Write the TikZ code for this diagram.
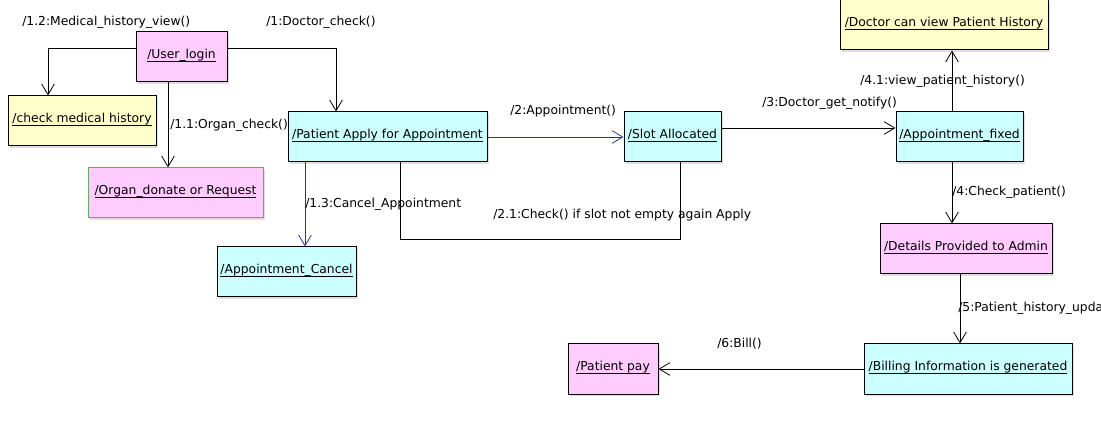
\documentclass[tikz,border=0pt]{standalone}
\usepackage{fontspec}
\setmainfont{DejaVu Sans}
\usetikzlibrary{arrows.meta,shadows}
\definecolor{objpink}{HTML}{FFCCFF}
\definecolor{objyellow}{HTML}{FFFFCC}
\definecolor{objcyan}{HTML}{CCFFFF}
\definecolor{msgnavy}{HTML}{333388}
\definecolor{objgreen}{HTML}{66AA66}
\newcommand\objname[1]{\underline{\smash{#1}}}
\tikzset{
  obj/.style={draw, line width=0.75pt, inner sep=0pt, minimum height=37.5pt,
    text height=8.5pt, text depth=5.5pt,
    drop shadow={shadow xshift=1.5pt, shadow yshift=-1.5pt, fill=black!25, opacity=0.5}},
  msg/.style={line width=0.7pt, -{Straight Barb[length=8pt,width=9.5pt,line width=0.6pt]}},
  lbl/.style={anchor=west, inner sep=0pt}
}

\begin{document}
\begin{tikzpicture}[x=0.75pt, y=-0.75pt, font=\fontsize{9.25}{11}\selectfont]
			%%%%% START %%%%%
			\clip (0,0) rectangle (1101,442);
			\useasboundingbox (0,0) rectangle (1101,442);
			
			\node[obj, fill=objpink, minimum width=68.25pt] (ulogin) at (181.5,57) {\objname{/User\_login}};
			\node[obj, fill=objyellow, minimum width=111pt] (chkhist) at (82,121) {\objname{/check medical history}};
			\node[obj, fill=objpink, draw=objgreen, minimum width=131.25pt] (organ) at (175.5,193) {\objname{/Organ\_donate or Request}};
			\node[obj, fill=objcyan, minimum width=149.25pt] (papply) at (387.5,137) {\objname{/Patient Apply for Appointment}};
			\node[obj, fill=objcyan, minimum width=104.25pt] (cancel) at (286.5,272) {\objname{/Appointment\_Cancel}};
			\node[obj, fill=objcyan, minimum width=72.75pt] (slot) at (672.5,137) {\objname{/Slot Allocated}};
			\node[obj, fill=objyellow, minimum width=156pt] (docview) at (944,25) {\objname{/Doctor can view Patient History}};
			\node[obj, fill=objcyan, minimum width=95.25pt] (fixed) at (959.5,137) {\objname{/Appointment\_fixed}};
			\node[obj, fill=objpink, minimum width=129pt] (details) at (966,249) {\objname{/Details Provided to Admin}};
			\node[obj, fill=objcyan, minimum width=156pt] (billing) at (968,369) {\objname{/Billing Information is generated}};
			\node[obj, fill=objpink, minimum width=67.5pt] (ppay) at (613,369) {\objname{/Patient pay}};
			
			\draw[msg] (ulogin.west |- 0,48) -| (chkhist.north -| 48,0);
			\node[lbl] (l12) at (22,22) {/1.2:Medical\_history\_view()};
			
			\draw[msg] (ulogin.east |- 0,48) -| (336,0 |- papply.north);
			\node[lbl] (l1) at (266,22) {/1:Doctor\_check()};
			
			\draw[msg] (168,0 |- ulogin.south) -- (168,0 |- organ.north);
			\node[lbl] (l11) at (170,125) {/1.1:Organ\_check()};
			
			\draw[msg, msgnavy] (papply.east) -- (slot.west);
			\node[lbl] (l2) at (510,111) {/2:Appointment()};
			
			\draw[msg, msgnavy] (305,0 |- papply.south) -- (305,0 |- cancel.north);
			\node[lbl] (l13) at (305,204) {/1.3:Cancel\_Appointment};
			
			\coordinate (chkbend) at (680,239);
			\draw[line width=0.7pt] (400,0 |- papply.south) |- (chkbend) -- (chkbend |- slot.south);
			\node[lbl] (l21) at (493,215) {/2.1:Check() if slot not empty again Apply};
			
			\draw[msg] (slot.east |- 0,128) -- (fixed.west |- 0,128);
			\node[lbl] (l3) at (762,103) {/3:Doctor\_get\_notify()};
			
			\draw[msg] (952,0 |- fixed.north) -- (952,0 |- docview.south);
			\node[lbl] (l41) at (860,81) {/4.1:view\_patient\_history()};
			
			\draw[msg] (952,0 |- fixed.south) -- (952,0 |- details.north);
			\node[lbl] (l4) at (952,192) {/4:Check\_patient()};
			
			\draw[msg] (960,0 |- details.south) -- (960,0 |- billing.north);
			\node[lbl] (l5) at (958,308) {/5:Patient\_history\_update()};
			
			\draw[msg] (billing.west) -- (ppay.east);
			\node[lbl] (l6) at (717,344) {/6:Bill()};
			%%%%% END %%%%%
\end{tikzpicture}
\end{document}
